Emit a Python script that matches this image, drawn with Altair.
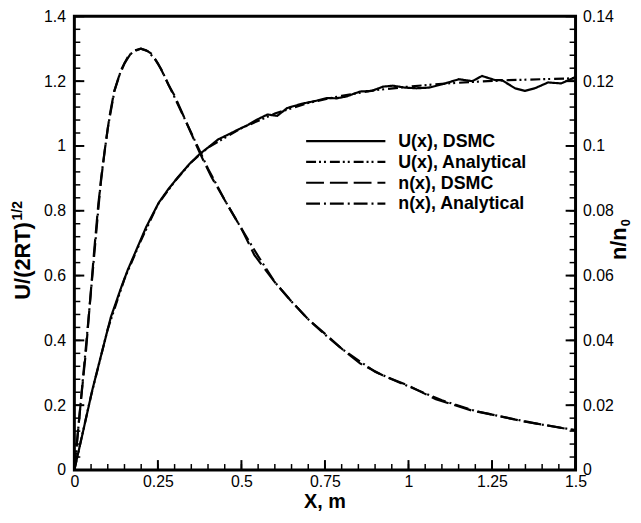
import altair as alt
import pandas as pd

# ---------------- data ----------------
# U(x), DSMC  (left axis, U/(2RT)^1/2)
UD_X = [0.0, 0.03, 0.054, 0.084, 0.109, 0.14, 0.16, 0.183, 0.215, 0.252, 0.28, 0.311, 0.345,
        0.376, 0.40, 0.43, 0.46, 0.489, 0.52, 0.548, 0.578, 0.607, 0.637, 0.68, 0.726,
        0.756, 0.785, 0.815, 0.855, 0.89, 0.924, 0.953, 0.99, 1.023, 1.061, 1.10, 1.151,
        1.191, 1.22, 1.26, 1.28, 1.30, 1.319, 1.349, 1.378, 1.418, 1.457, 1.50]
UD_Y = [0.0, 0.137, 0.248, 0.37, 0.471, 0.563, 0.618, 0.673, 0.75, 0.824, 0.865, 0.905, 0.945,
        0.976, 0.995, 1.02, 1.035, 1.05, 1.065, 1.082, 1.097, 1.093, 1.117, 1.13, 1.14,
        1.148, 1.147, 1.153, 1.168, 1.17, 1.183, 1.186, 1.18, 1.178, 1.18, 1.19, 1.206,
        1.20, 1.216, 1.203, 1.203, 1.19, 1.178, 1.17, 1.178, 1.196, 1.193, 1.213]

# U(x), Analytical
UA_X = [0.0, 0.05, 0.10, 0.15, 0.20, 0.25, 0.30, 0.35, 0.40, 0.50, 0.60, 0.70, 0.80,
        0.90, 1.00, 1.10, 1.20, 1.30, 1.40, 1.50]
UA_Y = [0.0, 0.23, 0.435, 0.59, 0.71, 0.82, 0.89, 0.95, 0.995, 1.055, 1.10, 1.133, 1.155,
        1.172, 1.183, 1.192, 1.198, 1.203, 1.206, 1.209]

# n(x), DSMC  (right axis, n/n0)
ND_X = [0.0, 0.02, 0.035, 0.059, 0.072, 0.09, 0.105, 0.119, 0.133, 0.15, 0.168, 0.185,
        0.198, 0.215, 0.232, 0.25, 0.265, 0.282, 0.30, 0.33, 0.376, 0.41, 0.455, 0.50,
        0.539, 0.598, 0.65, 0.70, 0.756, 0.805, 0.855, 0.929, 1.003, 1.082, 1.191, 1.25,
        1.349, 1.447, 1.50]
ND_Y = [0.0, 0.0218, 0.037, 0.0673, 0.0824, 0.098, 0.109, 0.1168, 0.1213, 0.1255, 0.1284,
        0.1295, 0.130, 0.1295, 0.1284, 0.1255, 0.1225, 0.1188, 0.1155, 0.1085, 0.0977,
        0.0905, 0.0824, 0.0745, 0.0663, 0.0582, 0.052, 0.0465, 0.0415, 0.037, 0.0329,
        0.0289, 0.0259, 0.0218, 0.0183, 0.0171, 0.0149, 0.0132, 0.0122]

# n(x), Analytical
NA_X = [0.0, 0.02, 0.04, 0.06, 0.08, 0.10, 0.12, 0.14, 0.16, 0.18, 0.20, 0.22, 0.24,
        0.26, 0.28, 0.30, 0.35, 0.40, 0.45, 0.50, 0.55, 0.60, 0.65, 0.70, 0.75, 0.80,
        0.90, 1.00, 1.10, 1.20, 1.30, 1.40, 1.50]
NA_Y = [0.0, 0.022, 0.044, 0.067, 0.090, 0.1055, 0.117, 0.1235, 0.1275, 0.1295, 0.130,
        0.1292, 0.127, 0.1237, 0.1193, 0.115, 0.104, 0.093, 0.0833, 0.0745, 0.066, 0.058,
        0.052, 0.0465, 0.0418, 0.0374, 0.0303, 0.0258, 0.0215, 0.0182, 0.016, 0.014,
        0.0123]

# axis ticks
X_MAJOR = [0, 0.25, 0.5, 0.75, 1, 1.25, 1.5]
X_MINOR = [round(i * 0.05, 4) for i in range(31)]
YL_MAJOR = [0, 0.2, 0.4, 0.6, 0.8, 1.0, 1.2, 1.4]
YL_MINOR = [round(i * 0.04, 4) for i in range(36)]
YR_MAJOR = [0, 0.02, 0.04, 0.06, 0.08, 0.10, 0.12, 0.14]
YR_MINOR = [round(i * 0.004, 4) for i in range(36)]

LEGEND_LABELS = ["U(x), DSMC", "U(x), Analytical", "n(x), DSMC", "n(x), Analytical"]

# ---------------- styles ----------------
W, H = 506, 458
TOP = 6
FONT = "Liberation Sans"
DASH_SOLID = [1, 0]
DASH_UA = [10, 3, 2, 3, 2, 4]
DASH_ND = [18, 6]
DASH_NA = [14, 4, 2, 4]
LEG_DASH = [DASH_SOLID, DASH_UA, DASH_ND, DASH_NA]
LEG_Y = [126, 147, 168, 189]

xs = alt.Scale(domain=[0, 1.5], nice=False, zero=False)
yl = alt.Scale(domain=[0, 1.4], nice=False, zero=False)
yr = alt.Scale(domain=[0, 0.14], nice=False, zero=False)

x_axis = alt.Axis(values=X_MAJOR, format=".3~g", ticks=False, tickSize=0, domain=False,
                  grid=False, labelPadding=4, labelFlush=False, title=None)
yl_axis = alt.Axis(values=YL_MAJOR, format=".3~g", ticks=False, tickSize=0, domain=False,
                   grid=False, labelPadding=9, labelFlush=False, title=None)
yr_axis = alt.Axis(values=YR_MAJOR, format=".3~g", ticks=False, tickSize=0, domain=False,
                   grid=False, labelPadding=7, labelFlush=False, title=None, orient="right")


def xy(xv, yv):
    return pd.DataFrame({"x": xv, "y": yv})


def line(df, yscale, yaxis, dash):
    return alt.Chart(df).mark_line(color="black", strokeWidth=2.2, strokeDash=dash).encode(
        x=alt.X("x:Q", scale=xs, axis=x_axis),
        y=alt.Y("y:Q", scale=yscale, axis=yaxis),
    )


def xticks(vals, length, sw):
    return alt.Chart(pd.DataFrame({"v": vals})).mark_rule(color="black", strokeWidth=sw).encode(
        x=alt.X("v:Q", scale=xs, axis=x_axis), y=alt.value(H), y2=alt.value(H - length))


def yticks(vals, scale, yaxis, length, sw, right=False):
    x0 = W if right else 0
    x1 = W - length if right else length
    return alt.Chart(pd.DataFrame({"v": vals})).mark_rule(color="black", strokeWidth=sw).encode(
        y=alt.Y("v:Q", scale=scale, axis=yaxis), x=alt.value(x0), x2=alt.value(x1))


u_group = alt.layer(
    line(xy(UA_X, UA_Y), yl, yl_axis, DASH_UA),
    line(xy(UD_X, UD_Y), yl, yl_axis, DASH_SOLID),
    xticks(X_MINOR, 6, 1.5),
    xticks(X_MAJOR, 10, 2),
    yticks(YL_MINOR, yl, yl_axis, 6, 1.5),
    yticks(YL_MAJOR, yl, yl_axis, 10, 2),
)

n_group = alt.layer(
    line(xy(NA_X, NA_Y), yr, yr_axis, DASH_NA),
    line(xy(ND_X, ND_Y), yr, yr_axis, DASH_ND),
    yticks(YR_MINOR, yr, yr_axis, 6, 1.5, right=True),
    yticks(YR_MAJOR, yr, yr_axis, 10, 2, right=True),
)

one = pd.DataFrame({"a": [0]})

legend_layers = []
for lab, dash, ly in zip(LEGEND_LABELS, LEG_DASH, LEG_Y):
    legend_layers.append(
        alt.Chart(one).mark_rule(color="black", strokeWidth=2.2, strokeDash=dash).encode(
            x=alt.value(234), x2=alt.value(314), y=alt.value(ly)))
    legend_layers.append(
        alt.Chart(one).mark_text(align="left", baseline="middle", font=FONT, fontSize=18,
                                 fontWeight="bold", color="black").encode(
            x=alt.value(327), y=alt.value(ly + 1), text=alt.value(lab)))


def label(txt, x, y, size, angle=0, align="left", baseline="alphabetic"):
    kw = dict(align=align, baseline=baseline, font=FONT, fontSize=size,
              fontWeight="bold", color="black")
    if angle:
        kw["angle"] = angle
    return alt.Chart(one).mark_text(**kw).encode(
        x=alt.value(x), y=alt.value(y), text=alt.value(txt))


titles = [
    label("X, m", W / 2, 496, 20, align="center"),
    label("U/(2RT)", -45, 286, 22, angle=270),
    label("1/2", -53, 206, 14, angle=270),
    label("n/n", 557, 246, 22, angle=270),
    label("0", 561, 212, 13, angle=270),
]

chart = alt.layer(u_group, n_group, *legend_layers, *titles).resolve_scale(
    y="independent"
).properties(
    width=W, height=H,
    padding={"left": 67, "top": TOP, "right": 58, "bottom": 42},
    autosize=alt.AutoSizeParams(type="none"),
).configure_view(
    stroke="black", strokeWidth=3
).configure_axis(
    labelFont=FONT, labelFontSize=16, labelColor="black"
)

chart.save("out.html", embed_options={"renderer": "svg", "actions": False})
